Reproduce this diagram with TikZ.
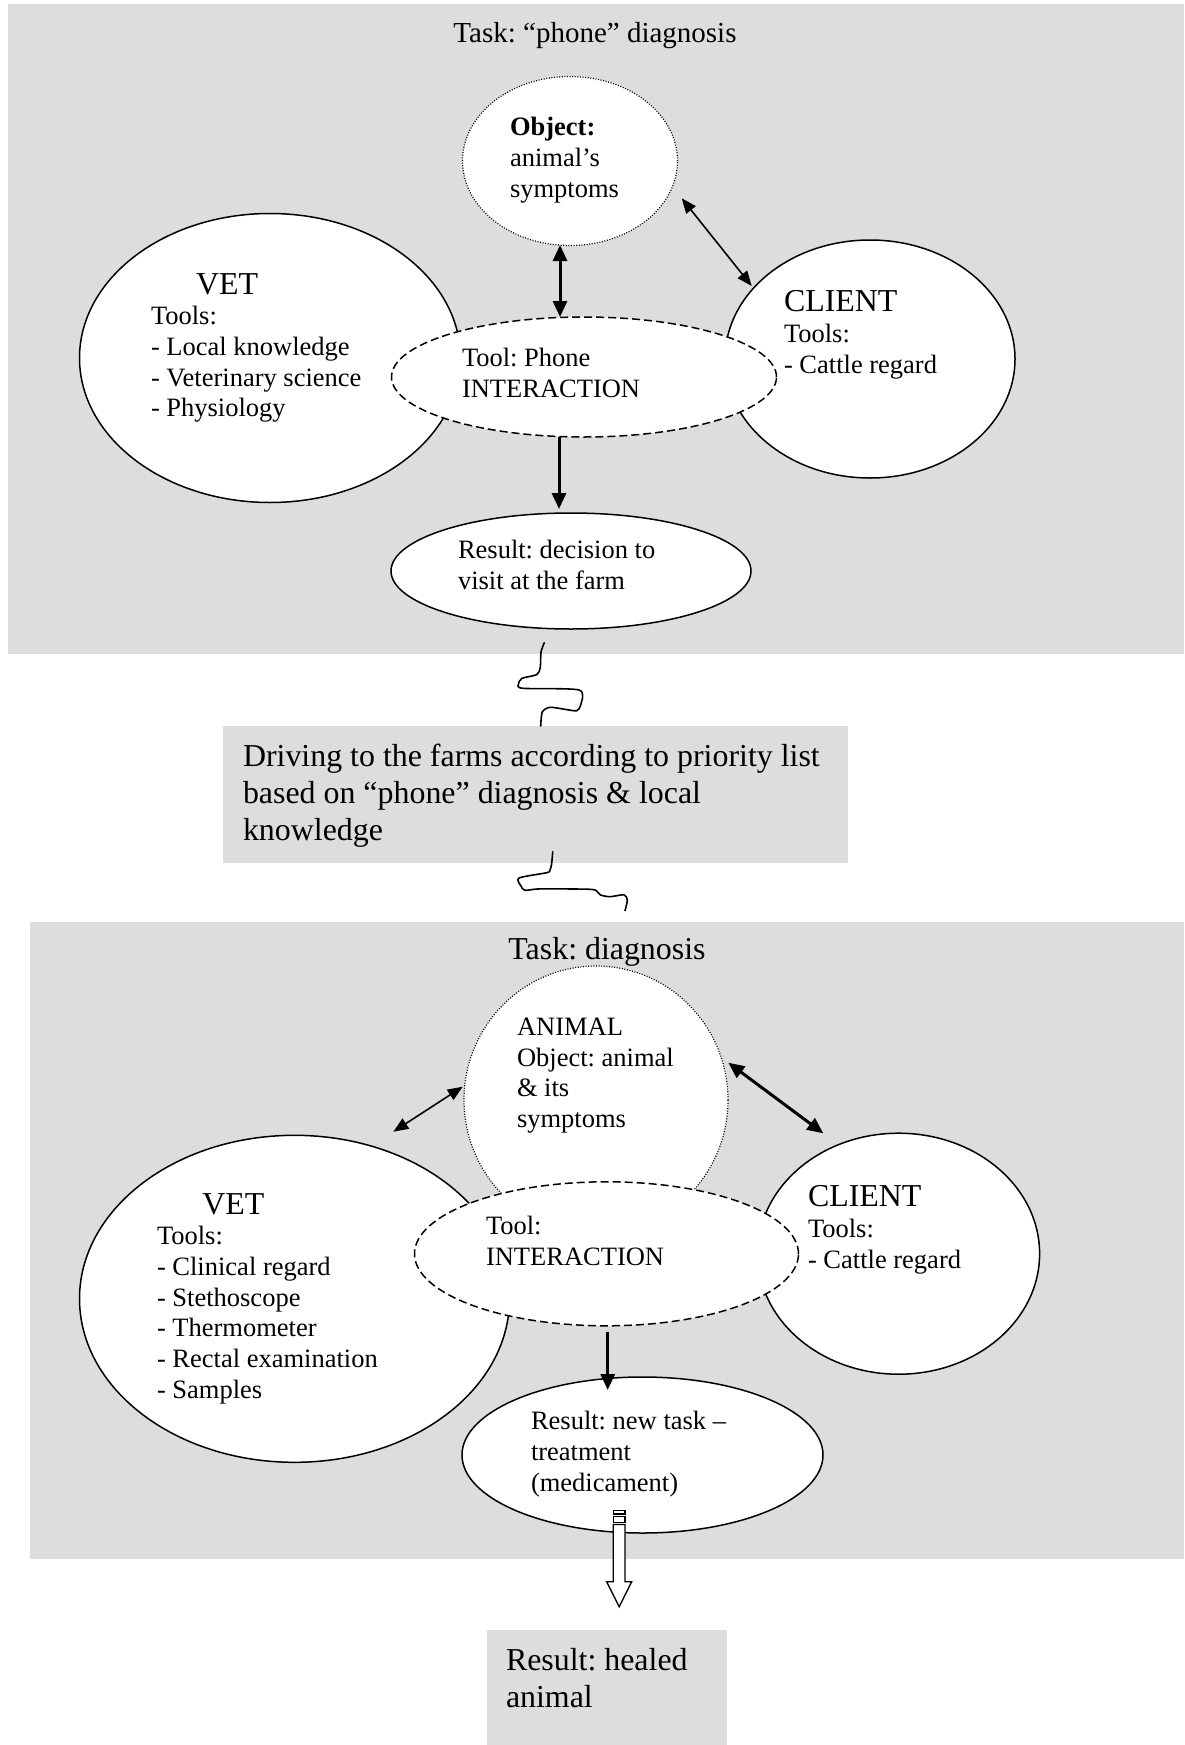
\documentclass[tikz,border=0pt]{standalone}
\usepackage{fontspec}
\setmainfont{Liberation Serif}
\usetikzlibrary{shapes.geometric,arrows.meta,calc}
\definecolor{panel}{RGB}{221,221,221}
\newcommand{\firstln}{\rule{0pt}{.75em}}
\frenchspacing
\begin{document}
\begin{tikzpicture}[x=1pt,y=-1pt,
  ell/.style={ellipse, draw, fill=white, line width=1.5pt, inner sep=0pt, outer sep=0pt},
  dotell/.style={ell, line width=1.2pt, dash pattern=on 1pt off 1.6pt},
  dashell/.style={ell, dash pattern=on 8pt off 4pt},
  small/.style={font=\fontsize{26.5}{30.7}\selectfont, inner sep=0pt, outer sep=0pt, align=left, anchor=north west},
  bigt/.style={font=\fontsize{31.9}{36.7}\selectfont, inner sep=0pt, outer sep=0pt},
  bigblock/.style={bigt, align=left, anchor=north west},
  greybox/.style={rectangle, fill=panel, draw=none, inner sep=0pt, outer sep=0pt, anchor=north west},
  thinarr/.style={line width=1.6pt, {Triangle[length=15pt,width=12pt]}-{Triangle[length=15pt,width=12pt]}},
  thickarr/.style={line width=3pt, {Triangle[length=16pt,width=14pt]}-{Triangle[length=16pt,width=14pt]}},
  downarr/.style={line width=3pt, -{Triangle[length=16pt,width=14pt]}},
  squig/.style={line width=1.6pt, line cap=round, line join=round},
  hollow/.style={draw, fill=white, line width=1.3pt, line join=miter}
]
\useasboundingbox (0,0) rectangle (1184,1745);

% ---------- panels ----------
\node[greybox, minimum width=1176.5pt, minimum height=649.5pt] (panA) at (7.5,4.5) {};
\node[greybox, minimum width=1153.8pt, minimum height=636.9pt] (panB) at (30.2,921.7) {};
\node[greybox, minimum width=625.2pt, minimum height=136.7pt] (drive) at (222.8,726) {};
\node[greybox, minimum width=240.2pt, minimum height=115pt] (healed) at (487,1630) {};

% ---------- top panel ellipses ----------
\node[ell, minimum width=381pt, minimum height=289pt] (vet1) at (270,358) {};
\node[ell, minimum width=290pt, minimum height=238pt] (cli1) at (870,359) {};
\node[dotell, minimum width=215pt, minimum height=169pt] (obj1) at (570,161) {};
\node[dashell, minimum width=385pt, minimum height=120pt] (int1) at (584,377) {};
\node[ell, minimum width=360pt, minimum height=116pt] (res1) at (571,571) {};

% ---------- bottom panel ellipses ----------
\node[dotell, minimum width=264pt, minimum height=268pt] (ani) at (596,1100) {};
\node[ell, minimum width=430pt, minimum height=327pt] (vet2) at (294.5,1298.8) {};
\node[ell, minimum width=282pt, minimum height=241pt] (cli2) at (898.6,1253.7) {};
\node[dashell, minimum width=384pt, minimum height=144pt] (int2) at (606.5,1253.8) {};
\node[ell, minimum width=361pt, minimum height=156pt] (res2) at (642.5,1455) {};

% ---------- top arrows ----------
\draw[thickarr] ($(obj1.center)+(-10,84)$) -- ($(int1.center)+(-24,-60)$);
\draw[thinarr] ($(obj1.center)+(111.7,37.3)$) -- ($(cli1.center)+(-118.3,-73)$);
\draw[downarr] ($(int1.center)+(-25,59.6)$) -- ($(res1.center)+(-12,-62)$);

% ---------- bottom arrows ----------
\draw[thinarr] ($(vet2.center)+(98.8,-167.1)$) -- ($(ani.center)+(-133.3,-13.3)$);
\draw[thickarr] ($(ani.center)+(132.3,-37.3)$) -- ($(cli2.center)+(-75.3,-120.4)$);
\draw[downarr] ($(int2.center)+(1.2,77.9)$) -- ($(res2.center)+(-34.8,-65)$);

% ---------- squiggle connectors ----------
\coordinate (sqAstart) at ($(res1.south)+(-26.7,13.7)$);
\coordinate (sqBstart) at ($(drive.south west)+(329.9,-11)$);
\draw[squig] plot[smooth, tension=0.45] coordinates {
  (sqAstart) (541,652) (540.3,667) (537,674.5) (522,678.3) (518.5,684)
  (523,688.3) (579,690) (580.7,705) (576.7,710.7) (566,709.5) (550,707.3)
  (542.3,712) (540.7,726)};
\draw[squig] plot[smooth, tension=0.45] coordinates {
  (sqBstart) (551.6,864) (550,870) (546.7,872.7) (519,878) (521,886)
  (525,890.3) (540,888.9) (590,889.3) (597.3,891.7) (600.5,895)
  (610,896.7) (624,894.8) (627.3,900) (625,910.7)};

% ---------- hollow striped arrow ----------
\coordinate (ha) at ($(res2.south)+(-23.3,0)$);
\draw[hollow] (613.3,1510.7) rectangle (625,1514);
\draw[hollow] (613.3,1516.5) rectangle (625,1522.5);
\draw[hollow] (613.3,1524.5) -- (625,1524.5) -- (625,1581.7) -- (631.7,1581.7)
  -- (619.2,1606.7) -- (606.7,1581.7) -- (613.3,1581.7) -- cycle;

% ---------- texts (top) ----------
\node[font=\fontsize{29}{33}\selectfont, inner sep=0pt, anchor=base] (titleA) at (595,42.5) {Task: “phone” diagnosis};
\node[small] (objtxt) at (510,116) {\firstln\textbf{Object:}\\animal’s\\symptoms};
\node[bigt, anchor=base west] (vet1lbl) at (196,294) {VET};
\node[small] (vet1txt) at (151,305) {\firstln Tools:\\- Local knowledge\\- Veterinary science\\- Physiology};
\node[bigt, anchor=base west] (cli1lbl) at (784,311.5) {CLIENT};
\node[small] (cli1txt) at (784,323) {\firstln Tools:\\- Cattle regard};
\node[small] (int1txt) at (462,347) {\firstln Tool: Phone\\INTERACTION};
\node[small] (res1txt) at (458,539) {\firstln Result: decision to\\visit at the farm};

% ---------- middle box text ----------
\node[bigblock] (drivetxt) at (243,743) {\firstln Driving to the farms according to priority list\\based on “phone” diagnosis \& local\\knowledge};

% ---------- texts (bottom) ----------
\node[bigt, anchor=base] (titleB) at (607,959.5) {Task: diagnosis};
\node[small] (anitxt) at (517,1015.5) {\firstln ANIMAL\\Object: animal\\\& its\\symptoms};
\node[bigt, anchor=base west] (vet2lbl) at (202.4,1214) {VET};
\node[small] (vet2txt) at (157,1225) {\firstln Tools:\\- Clinical regard\\- Stethoscope\\- Thermometer\\- Rectal examination\\- Samples};
\node[bigt, anchor=base west] (cli2lbl) at (808,1206) {CLIENT};
\node[small] (cli2txt) at (808,1218) {\firstln Tools:\\- Cattle regard};
\node[small] (int2txt) at (486,1214.5) {\firstln Tool:\\INTERACTION};
\node[small] (res2txt) at (531,1410) {\firstln Result: new task –\\treatment\\(medicament)};
\node[bigblock] (healedtxt) at (506,1646.5) {\firstln Result: healed\\animal};
\end{tikzpicture}
\end{document}
